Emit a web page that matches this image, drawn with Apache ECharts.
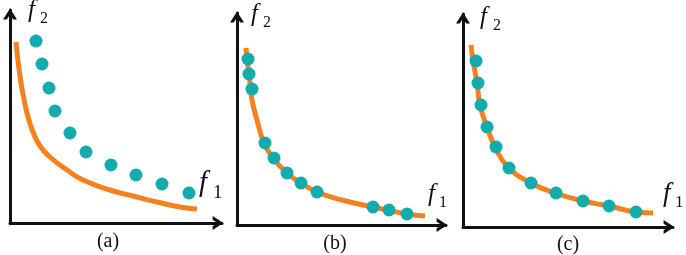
<!DOCTYPE html>
<html>
<head>
<meta charset="utf-8">
<script src="https://cdn.jsdelivr.net/npm/echarts@6/dist/echarts.min.js"></script>
<style>
  html, body { margin: 0; padding: 0; background: #fff; }
  #chart { width: 686px; height: 255px; }
</style>
</head>
<body>
<div id="chart"></div>
<script>
var curveA = [[6,181],[8,162],[11,140],[14,124],[17,110],[23,91],[30,77],[40,66],[57,53],[73,43],[100,33],[123,27],[147,21],[170,16],[187,14]];
var dotsA  = [[26,182],[32,159],[39,135],[45,112],[60,90],[76,71],[101,58],[126,48],[152,39],[179,30]];

var curveB = [[9,177],[10,167],[13,142],[15,125],[20,105],[27,82],[36,67],[50,52],[64,42],[80,33],[105,25],[136,18],[170,11],[188,9]];
var dotsB  = [[11,166],[12,151],[15,136],[28,82],[37,67],[50,52],[64,42],[80,33],[136,18],[152,15],[170,11]];

var curveC = [[8,182],[10,167],[14,144],[17,122],[24,100],[32,80],[45,60],[68,44],[92,34],[120,26],[146,21],[173,15],[190,14]];
var dotsC  = [[13,166],[15,144],[18,122],[24,100],[33,80],[46,59],[68,44],[93,34],[120,26],[146,21],[173,15]];

var axisMaxX = [212, 209, 210];
var axisMaxY = [213, 212, 213];
var panelNames = ['(a)', '(b)', '(c)'];

var chart = echarts.init(document.getElementById('chart'), null, {renderer: 'canvas'});

var ORANGE = '#F7811F';
var TEAL = '#13ABAB';
var INK = '#111';

// layout of the three panels (pixels)
var grids = [
  {left: 10,  top: 10, width: 212, height: 213},
  {left: 237, top: 13, width: 209, height: 212},
  {left: 463, top: 14, width: 210, height: 213}
];

var arrow = 'path://M0,10 L6.5,0 L13,10 L9.5,10 L6.5,5.4 L3.5,10 Z';

var axisCommon = function (max) {
  return {
    type: 'value',
    min: 0,
    max: max,
    axisLine: {
      show: true,
      symbol: ['none', arrow],
      symbolSize: [14, 11],
      symbolOffset: [0, -4],
      lineStyle: {color: INK, width: 3}
    },
    axisTick: {show: false},
    axisLabel: {show: false},
    splitLine: {show: false}
  };
};

var xAxes = [], yAxes = [], series = [];
var curves = [curveA, curveB, curveC];
var dots = [dotsA, dotsB, dotsC];
for (var i = 0; i < 3; i++) {
  grids[i].outerBoundsMode = 'none';
  grids[i].containLabel = false;
  xAxes.push(Object.assign({gridIndex: i}, axisCommon(axisMaxX[i])));
  yAxes.push(Object.assign({gridIndex: i}, axisCommon(axisMaxY[i])));
  series.push({
    type: 'line',
    xAxisIndex: i, yAxisIndex: i,
    data: curves[i],
    smooth: 0.5,
    showSymbol: false,
    silent: true,
    lineStyle: {color: ORANGE, width: 5},
    z: 2
  });
  series.push({
    type: 'scatter',
    xAxisIndex: i, yAxisIndex: i,
    data: dots[i],
    symbolSize: 13,
    silent: true,
    itemStyle: {color: TEAL, opacity: 1},
    z: 3
  });
}

// f label with subscript, placed by baseline
function fLabel(x, base, size, sub, subX, subBase, subSize) {
  return [
    {type: 'text', x: x, y: base - 0.33 * size, silent: true,
     style: {text: 'f', font: 'italic ' + size + 'px "Liberation Serif"', fill: INK, verticalAlign: 'middle'}},
    {type: 'text', x: subX, y: subBase - 0.33 * subSize, silent: true,
     style: {text: sub, font: subSize + 'px "Liberation Serif"', fill: INK, verticalAlign: 'middle'}}
  ];
}

var graphics = []
  .concat(fLabel(28, 19, 25, '2', 40, 24, 16))
  .concat(fLabel(199, 193, 29, '1', 213, 199, 19))
  .concat(fLabel(251, 23, 25, '2', 263, 28, 16))
  .concat(fLabel(428, 203, 25, '1', 439, 208, 16))
  .concat(fLabel(480, 26, 25, '2', 493, 31, 16))
  .concat(fLabel(663, 203, 27, '1', 675, 208, 17));

var nameX = [108, 335, 568];
var nameY = [242, 244, 245];
for (var k = 0; k < 3; k++) {
  graphics.push({
    type: 'text', x: nameX[k], y: nameY[k], silent: true,
    style: {text: panelNames[k], font: '20px "Liberation Serif"', fill: INK, align: 'center', verticalAlign: 'middle'}
  });
}

chart.setOption({
  animation: false,
  backgroundColor: '#fff',
  grid: grids,
  xAxis: xAxes,
  yAxis: yAxes,
  series: series,
  graphic: graphics
});
</script>
</body>
</html>
